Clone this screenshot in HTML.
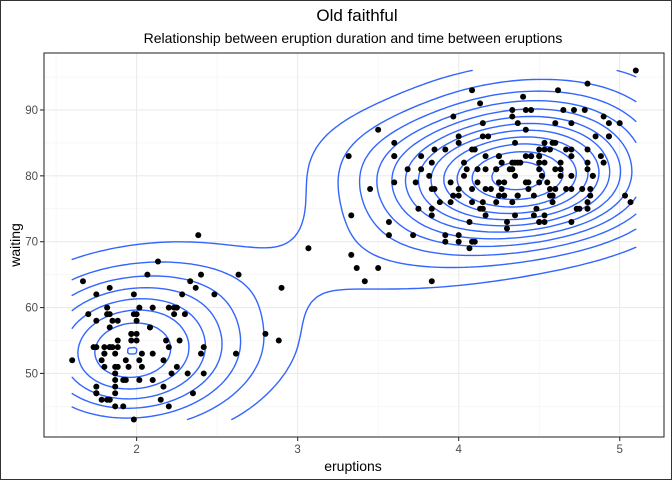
<!DOCTYPE html>
<html><head><meta charset="utf-8"><style>
html,body{margin:0;padding:0;background:#fff}
svg{display:block;font-family:"Liberation Sans",sans-serif}
</style></head><body>
<svg id="c" width="672" height="480">
<rect x="0.5" y="0.5" width="671" height="479" fill="#fff" stroke="#333"/>
<text x="357" y="21" font-size="17" text-anchor="middle" fill="#000">Old faithful</text>
<text x="353" y="43" font-size="14" text-anchor="middle" fill="#000">Relationship between eruption duration and time between eruptions</text>
<g id="grid"></g>
<g id="contours"></g>
<g id="pts"></g>
<rect x="44" y="53" width="620" height="384" fill="none" stroke="#333" stroke-width="1.1"/>
<g id="axes"></g>
<text x="353" y="471" font-size="14" text-anchor="middle">eruptions</text>
<text transform="translate(20,245) rotate(-90)" font-size="14" text-anchor="middle">waiting</text>
</svg>
<script>
const xTicks=[2,3,4,5];
const yTicks=[50,60,70,80,90];
const eruptions=[3.6,1.8,3.333,2.283,4.533,2.883,4.7,3.6,1.95,4.35,1.833,3.917,4.2,1.75,4.7,2.167,1.75,4.8,1.6,4.25,1.8,1.75,3.45,3.067,4.533,3.6,1.967,4.083,3.85,4.433,4.3,4.467,3.367,4.033,3.833,2.017,1.867,4.833,1.833,4.783,
4.35,1.883,4.567,1.75,4.533,3.317,3.833,2.1,4.633,2,4.8,4.716,1.833,4.833,1.733,4.883,3.717,1.667,4.567,4.317,2.233,4.5,1.75,4.8,1.817,4.4,4.167,4.7,2.067,4.7,
4.033,1.967,4.5,4,1.983,5.067,2.017,4.567,3.883,3.6,4.133,4.333,4.1,2.633,4.067,4.933,3.95,4.517,2.167,4,2.2,4.333,1.867,4.817,1.833,4.3,4.667,3.75,1.867,4.9,
2.483,4.367,2.1,4.5,4.05,1.867,4.7,1.783,4.85,3.683,4.733,2.3,4.9,4.417,1.7,4.633,2.317,4.6,1.817,4.417,2.617,4.067,4.25,1.967,4.6,3.767,1.917,4.5,2.267,4.65,
1.867,4.167,2.8,4.333,1.833,4.383,1.883,4.933,2.033,3.733,4.233,2.233,4.533,4.817,4.333,1.983,4.633,2.017,5.1,1.8,5.033,4,2.4,4.6,3.567,4,4.5,4.083,1.8,3.967,
2.2,4.15,2,3.833,3.5,4.583,2.367,5,1.933,4.617,1.917,2.083,4.583,3.333,4.167,4.333,4.5,2.417,4,4.167,1.883,4.583,4.25,3.767,2.033,4.433,4.083,1.833,4.417,2.183,
4.8,1.833,4.8,4.1,3.966,4.233,3.5,4.366,2.25,4.667,2.1,4.35,4.133,1.867,4.6,1.783,4.367,3.85,1.933,4.5,2.383,4.7,1.867,3.833,3.417,4.233,2.4,4.8,2,4.15,
1.867,4.267,1.75,4.483,4,4.117,4.083,4.267,3.917,4.55,4.083,2.417,4.183,2.217,4.45,1.883,1.85,4.283,3.95,2.333,4.15,2.35,4.933,2.9,4.583,3.833,2.083,4.367,2.133,4.35,
2.2,4.45,3.567,4.5,4.15,3.817,3.917,4.45,2,4.283,4.767,4.533,1.85,4.25,1.983,2.25,4.75,4.117,2.15,4.417,1.817,4.467];
const waiting=[79,54,74,62,85,55,88,85,51,85,54,84,78,47,83,52,62,84,52,79,51,47,78,69,74,83,55,76,78,79,73,77,66,80,74,52,48,80,59,90,
80,58,84,58,73,83,64,53,82,59,75,90,54,80,54,83,71,64,77,81,59,84,48,82,60,92,78,78,65,73,
82,56,79,71,62,76,60,78,76,83,75,82,70,65,73,88,76,80,48,86,60,90,50,78,63,72,84,75,51,82,
62,88,49,83,81,47,84,52,86,81,75,59,89,79,59,81,50,85,59,87,53,69,77,56,88,81,45,82,55,90,
45,83,56,89,46,82,51,86,53,79,81,60,82,77,76,59,80,49,96,53,77,77,65,81,71,70,81,93,53,89,
45,86,58,78,66,76,63,88,52,93,49,57,77,68,81,81,73,50,85,74,55,77,83,83,51,78,84,46,83,55,
81,57,76,84,77,81,87,77,51,78,60,82,91,53,78,46,77,84,49,83,71,80,49,75,64,76,53,94,55,76,
50,82,54,75,78,79,78,78,70,79,70,54,86,50,90,54,54,77,79,64,75,47,86,63,85,82,57,82,67,74,
54,83,73,73,88,80,71,83,56,79,78,84,58,83,43,60,75,81,46,90,46,74];

const NS='http://www.w3.org/2000/svg';
const X0=44,X1=664,Y0=53,Y1=437,xmin=1.425,xmax=5.275,ymin=40.35,ymax=98.65;
const sx=v=>X0+(v-xmin)/(xmax-xmin)*(X1-X0);
const sy=v=>Y1-(v-ymin)/(ymax-ymin)*(Y1-Y0);
function mk(t,a,p){const e=document.createElementNS(NS,t);for(const k in a)e.setAttribute(k,a[k]);(p||document.getElementById('c')).appendChild(e);return e;}
const grid=document.getElementById('grid'),axes=document.getElementById('axes');
mk('rect',{x:X0,y:Y0,width:X1-X0,height:Y1-Y0,fill:'#fff'},grid);
const mx=[1.5,2.5,3.5,4.5],my=[45,55,65,75,85,95];
mx.forEach(v=>{const l=mk('line',{x1:sx(v),x2:sx(v),y1:Y0,y2:Y1,stroke:'#f2f2f2','stroke-width':0.6},grid);});
my.forEach(v=>{const l=mk('line',{x1:X0,x2:X1,y1:sy(v),y2:sy(v),stroke:'#f2f2f2','stroke-width':0.6},grid);});
xTicks.forEach(v=>{const l=mk('line',{x1:sx(v),x2:sx(v),y1:Y0,y2:Y1,stroke:'#ebebeb','stroke-width':1.1},grid);
const t=mk('line',{x1:sx(v),x2:sx(v),y1:Y1,y2:Y1+4,stroke:'#333','stroke-width':1.1},axes);
const s=mk('text',{x:sx(v),y:Y1+16,'font-size':11.5,'text-anchor':'middle',fill:'#4d4d4d'},axes);s.textContent=v;});
yTicks.forEach(v=>{const l=mk('line',{x1:X0,x2:X1,y1:sy(v),y2:sy(v),stroke:'#ebebeb','stroke-width':1.1},grid);
const t=mk('line',{x1:X0-4,x2:X0,y1:sy(v),y2:sy(v),stroke:'#333','stroke-width':1.1},axes);
const s=mk('text',{x:X0-6,y:sy(v)+4,'font-size':11.5,'text-anchor':'end',fill:'#4d4d4d'},axes);s.textContent=v;});

// KDE (MASS::kde2d style)
const n=Math.min(eruptions.length,waiting.length);
const hx=0.394,hy=4.7,G=100;
const ex=eruptions.slice(0,n),wy=waiting.slice(0,n);
const gx0=Math.min(...ex),gx1=Math.max(...ex),gy0=Math.min(...wy),gy1=Math.max(...wy);
const gxs=[],gys=[];for(let i=0;i<G;i++){gxs.push(gx0+(gx1-gx0)*i/(G-1));gys.push(gy0+(gy1-gy0)*i/(G-1));}
const Z=[];let zmax=0;
for(let i=0;i<G;i++){Z.push([]);for(let j=0;j<G;j++){let s=0;for(let k=0;k<n;k++){const a=(gxs[i]-ex[k])/hx,b=(gys[j]-wy[k])/hy;s+=Math.exp(-0.5*(a*a+b*b));}
const z=s/(n*2*Math.PI*hx*hy);Z[i].push(z);if(z>zmax)zmax=z;}}
const levels=[];for(let L=0.002;L<zmax;L+=0.002)levels.push(L);
const cg=document.getElementById('contours');
levels.forEach(L=>{let d='';
 const ip=(i1,j1,i2,j2)=>{const z1=Z[i1][j1],z2=Z[i2][j2],t=(L-z1)/(z2-z1);return [sx(gxs[i1]+(gxs[i2]-gxs[i1])*t),sy(gys[j1]+(gys[j2]-gys[j1])*t)];};
 for(let i=0;i<G-1;i++)for(let j=0;j<G-1;j++){
  const c=[[i,j],[i+1,j],[i+1,j+1],[i,j+1]];const pts=[];
  for(let e=0;e<4;e++){const a=c[e],b=c[(e+1)%4];const za=Z[a[0]][a[1]]>=L,zb=Z[b[0]][b[1]]>=L;if(za!==zb)pts.push(ip(a[0],a[1],b[0],b[1]));}
  for(let p=0;p+1<pts.length;p+=2)d+='M'+pts[p][0].toFixed(1)+' '+pts[p][1].toFixed(1)+'L'+pts[p+1][0].toFixed(1)+' '+pts[p+1][1].toFixed(1);
 }
 const pa=mk('path',{d:d,fill:'none',stroke:'#3366FF','stroke-width':1.4,'stroke-linecap':'round'},cg);
 
});
const pg=document.getElementById('pts');
for(let k=0;k<n;k++){const c=mk('circle',{cx:sx(ex[k]),cy:sy(wy[k]),r:3,fill:'#000'},pg);}
</script>
</body></html>
